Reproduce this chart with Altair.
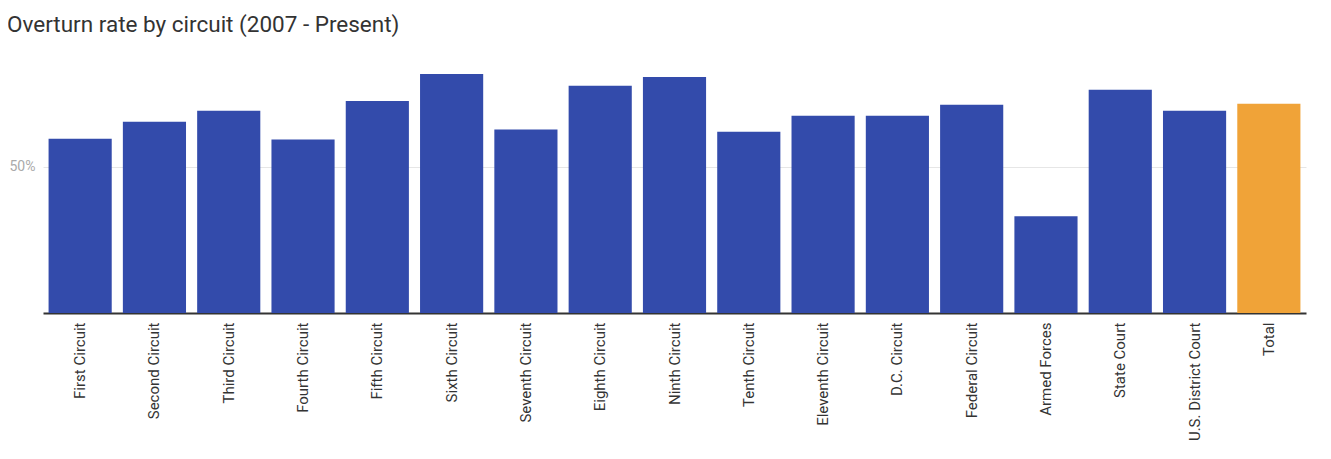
import altair as alt
import pandas as pd

categories = ["First Circuit", "Second Circuit", "Third Circuit", "Fourth Circuit",
              "Fifth Circuit", "Sixth Circuit", "Seventh Circuit", "Eighth Circuit",
              "Ninth Circuit", "Tenth Circuit", "Eleventh Circuit", "D.C. Circuit",
              "Federal Circuit", "Armed Forces", "State Court", "U.S. District Court", "Total"]
rates = [0.595, 0.653, 0.690, 0.592, 0.724, 0.816, 0.626, 0.776, 0.806, 0.619,
         0.673, 0.673, 0.711, 0.330, 0.762, 0.690, 0.714]
groups = ["circuit"] * 16 + ["total"]

df = pd.DataFrame({"category": categories, "rate": rates, "group": groups})

chart = alt.Chart(df).mark_bar().encode(
    x=alt.X("category:N", sort=categories,
            scale=alt.Scale(paddingInner=0.15, paddingOuter=0.075),
            axis=alt.Axis(title=None, labelAngle=270, labelAlign="right", labelBaseline="middle",
                          labelPadding=9, ticks=False, domainColor="#333333", domainWidth=2,
                          labelFont="Roboto", labelFontSize=15, labelColor="#333333")),
    y=alt.Y("rate:Q", scale=alt.Scale(domain=[0, 0.85], nice=False),
            axis=alt.Axis(title=None, values=[0.5], format=".0%", domain=False, ticks=False,
                          gridColor="#e6e6e6", labelColor="#aaaaaa", labelFont="Roboto",
                          labelFontSize=14, labelPadding=8)),
    color=alt.Color("group:N", scale=alt.Scale(domain=["circuit", "total"],
                                               range=["#334BAB", "#F0A338"]), legend=None),
).properties(
    width=1263, height=249,
    autosize=alt.AutoSizeParams(type="none"),
    padding={"left": 35, "top": 56, "right": 10, "bottom": 136},
    title=alt.Title("Overturn rate by circuit (2007 - Present)", anchor="start", dx=-2,
                    font="Roboto", fontSize=22.5, fontWeight="normal", color="#333333", offset=28),
).configure_view(stroke=None)

chart.save("out.html", embed_options={"renderer": "svg", "actions": False})
